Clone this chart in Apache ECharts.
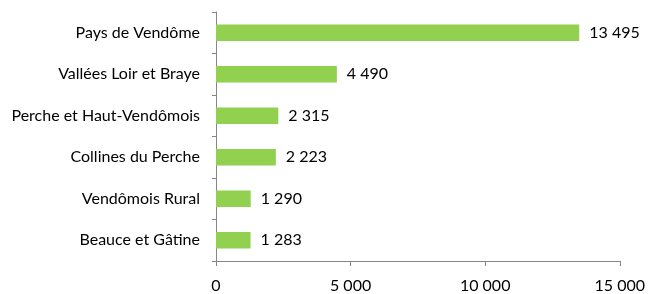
<!DOCTYPE html>
<html><head><meta charset="utf-8">
<script src="https://cdn.jsdelivr.net/npm/echarts@6/dist/echarts.min.js"></script>
<style>html,body{margin:0;padding:0;background:#fff}#c{width:648px;height:294px}</style>
</head><body><div id="c"></div>
<script>
const categories = ["Pays de Vendôme","Vallées Loir et Braye","Perche et Haut-Vendômois","Collines du Perche","Vendômois Rural","Beauce et Gâtine"];
const values = [13495, 4490, 2315, 2223, 1290, 1283];
const xMin = 0, xMax = 15000, xStep = 5000;

function fmt(v){ return String(v).replace(/\B(?=(\d{3})+(?!\d))/g, ' '); }

const chart = echarts.init(document.getElementById('c'), null, {renderer:'canvas'});
const font = 'Lato';
const fs = 16;
chart.setOption({
  animation:false,
  grid:{left:216, right:26, top:12, bottom:29, containLabel:false},
  xAxis:{type:'value', min:xMin, max:xMax, interval:xStep,
    splitLine:{show:false},
    axisLine:{show:true, lineStyle:{color:'#868686'}},
    axisTick:{show:true, length:5, lineStyle:{color:'#868686'}},
    axisLabel:{margin:17, color:'#000', fontFamily:font, fontSize:fs, formatter:fmt}},
  yAxis:{type:'category', inverse:true, data:categories,
    axisLine:{show:true, lineStyle:{color:'#868686'}},
    axisTick:{show:true, length:4, lineStyle:{color:'#868686'}},
    axisLabel:{margin:16, color:'#000', fontFamily:font, fontSize:fs}},
  series:[{type:'bar', data:values, barWidth:'40%',
    itemStyle:{color:'#92D050'},
    label:{show:true, position:'right', distance:10, color:'#000', fontFamily:font, fontSize:fs, formatter:p=>fmt(p.value)}}]
});
</script></body></html>
